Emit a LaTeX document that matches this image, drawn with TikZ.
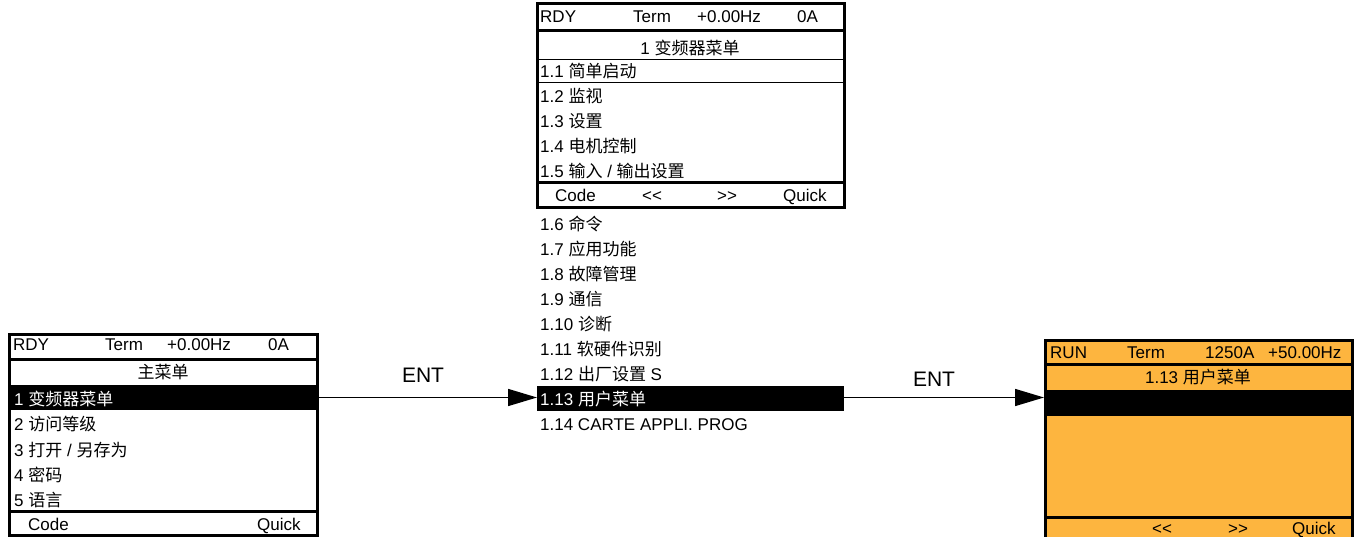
\documentclass[tikz,border=0pt]{standalone}
\usepackage{fontspec}
\setmainfont{Liberation Sans}
\newfontfamily\cjk{Noto Sans CJK SC}
\usetikzlibrary{arrows.meta}
\definecolor{panelorange}{RGB}{253,181,63}
\newcommand{\lsh}{<\kern0pt<}
\newcommand{\rsh}{>\kern0pt>}
\begin{document}
\begin{tikzpicture}[x=1pt,y=-1pt,
  txt/.style={anchor=base west, inner sep=0pt, font=\fontsize{17}{19}\selectfont},
  ctr/.style={anchor=base, inner sep=0pt, font=\fontsize{17}{19}\selectfont},
  wtxt/.style={txt, text=white},
  frame/.style={line width=3pt},
  thinline/.style={line width=1pt},
  hlrow/.style={fill=black, draw=none, inner sep=0pt, outer sep=0pt},
  entarrow/.style={line width=1.6pt, -{Triangle[length=29pt,width=17pt]}},
  entlbl/.style={anchor=base, inner sep=0pt, font=\fontsize{21}{24}\selectfont}
]
\useasboundingbox (0,0) rectangle (1358,537);

% ---------------- left panel ----------------
\node[hlrow, minimum width=308pt, minimum height=25pt] (Lhl) at (163.5,397.5) {};
\draw[frame] (9.5,334.5) rectangle (317.5,535.5);
\draw[frame] (9.5,359.5) -- (317.5,359.5);
\draw[frame] (9.5,511.5) -- (317.5,511.5);
\node[txt] (LhA) at (13,351) {RDY};
\node[txt] (LhB) at (105,351) {Term};
\node[txt] (LhC) at (167,351) {+0.00Hz};
\node[txt] (LhD) at (268,351) {0A};
\node[ctr] (Lt) at (163,378) {\cjk 主菜单};
\node[wtxt] (L1) at (14,405.5) {1 {\cjk 变频器菜单}};
\node[txt] (L2) at (14,430.7) {2 {\cjk 访问等级}};
\node[txt] (L3) at (14,456) {3 {\cjk 打开} / {\cjk 另存为}};
\node[txt] (L4) at (14,481.2) {4 {\cjk 密码}};
\node[txt] (L5) at (14,506.5) {5 {\cjk 语言}};
\node[txt] (LfA) at (28,530) {Code};
\node[txt] (LfB) at (257,530) {Quick};

% ---------------- middle panel ----------------
\draw[frame] (537.5,4) rectangle (844.5,208);
\draw[frame] (537.5,31) -- (844.5,31);
\draw[thinline] (537.5,60) -- (844.5,60);
\draw[thinline] (537.5,83) -- (844.5,83);
\draw[frame] (537.5,183) -- (844.5,183);
\node[txt] (MhA) at (540,23) {RDY};
\node[txt] (MhB) at (633,23) {Term};
\node[txt] (MhC) at (697,23) {+0.00Hz};
\node[txt] (MhD) at (797,23) {0A};
\node[ctr] (Mt) at (690,55) {1 {\cjk 变频器菜单}};
\node[txt] (M1) at (540,78) {1.1 {\cjk 简单启动}};
\node[txt] (M2) at (540,103) {1.2 {\cjk 监视}};
\node[txt] (M3) at (540,128) {1.3 {\cjk 设置}};
\node[txt] (M4) at (540,153) {1.4 {\cjk 电机控制}};
\node[txt] (M5) at (540,178) {1.5 {\cjk 输入} / {\cjk 输出设置}};
\node[txt] (MfA) at (555,202) {Code};
\node[txt] (MfB) at (642,202) {\lsh};
\node[txt] (MfC) at (717,202) {\rsh};
\node[txt] (MfD) at (783,202) {Quick};

\node[hlrow, minimum width=307pt, minimum height=25pt] (Mhl) at (690.5,398.5) {};
\node[txt] (M6) at (540,231) {1.6 {\cjk 命令}};
\node[txt] (M7) at (540,255.9) {1.7 {\cjk 应用功能}};
\node[txt] (M8) at (540,280.8) {1.8 {\cjk 故障管理}};
\node[txt] (M9) at (540,305.7) {1.9 {\cjk 通信}};
\node[txt] (M10) at (540,330.6) {1.10 {\cjk 诊断}};
\node[txt] (M11) at (540,355.5) {1.11 {\cjk 软硬件识别}};
\node[txt] (M12) at (540,380.4) {1.12 {\cjk 出厂设置} S};
\node[wtxt] (M13) at (540,405.3) {1.13 {\cjk 用户菜单}};
\node[txt] (M14) at (540,430.2) {1.14 CARTE APPLI. PROG};

% ---------------- right panel ----------------
\fill[panelorange] (1044,339) rectangle (1354,545);
\fill[black] (1044,363) rectangle (1354,366);
\node[hlrow, minimum width=310pt, minimum height=26pt] (Rhl) at (1199,403) {};
\fill[black] (1044,516) rectangle (1354,519);
\draw[frame] (1045.5,545) -- (1045.5,340.5) -- (1352.5,340.5) -- (1352.5,545);
\node[txt] (RhA) at (1050,358.5) {RUN};
\node[txt] (RhB) at (1127,358.5) {Term};
\node[txt] (RhC) at (1205,358.5) {1250A};
\node[txt] (RhD) at (1268,358.5) {+50.00Hz};
\node[ctr] (Rt) at (1198,384) {1.13 {\cjk 用户菜单}};
\node[txt] (RfB) at (1152,534) {\lsh};
\node[txt] (RfC) at (1228,534) {\rsh};
\node[txt] (RfD) at (1292,534) {Quick};

% ---------------- connectors ----------------
\draw[entarrow] (Lhl.east) -- (Lhl.east -| Mhl.west);
\draw[entarrow] (Mhl.east |- Lhl.east) -- (Lhl.east -| Rhl.west);
\node[entlbl] (E1) at (423,383) {ENT};
\node[entlbl] (E2) at (934,387) {ENT};
\end{tikzpicture}
\end{document}
